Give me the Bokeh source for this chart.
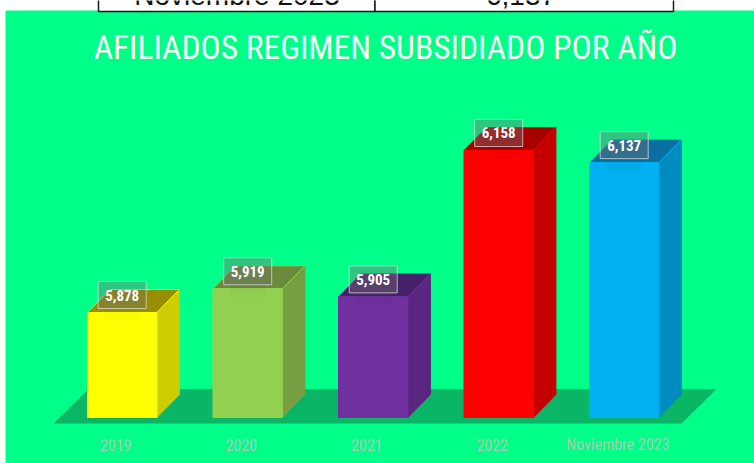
from bokeh.plotting import figure
from bokeh.models import Range1d
from bokeh.core.properties import value
from bokeh.embed import file_html
from bokeh.resources import INLINE

categories = ["2019", "2020", "2021", "2022", "Noviembre 2023"]
afiliados = [5878, 5919, 5905, 6158, 6137]
labels = ["5,878", "5,919", "5,905", "6,158", "6,137"]
front = ["#ffff00", "#92d050", "#7030a0", "#ff0000", "#00b0f0"]
side = ["#cccc00", "#759f40", "#5a2680", "#c40000", "#008cc0"]
top = ["#978f00", "#6b8a3b", "#47206a", "#a80000", "#0a6fa0"]
title = "AFILIADOS REGIMEN SUBSIDIADO POR AÑO"

W, H = 754, 463
BG = "#00ff88"
FLOOR = "#0bb566"
NARROW = "Roboto Condensed"

# scale: pixels per unit
xs = 125.5
ys = 0.5786
x0 = 121.7
y_ref = 312.0
v_ref = 5878


def X(px):
    return (px - x0) / xs


def Y(py):
    return v_ref + (y_ref - py) / ys


base = Y(417)
half = 34.7 / xs
ddx = 22.5 / xs
ddy = 23 / ys
idx = list(range(len(categories)))

p = figure(width=W, height=H, output_backend="svg", toolbar_location=None,
           x_range=Range1d(X(0), X(W)), y_range=Range1d(Y(H), Y(0)),
           min_border=0, margin=0,
           background_fill_color="white", border_fill_color="white")
p.axis.visible = False
p.grid.visible = False
p.outline_line_color = None

# panel, table remnant
p.quad(left=[X(5)], right=[X(W + 2)], top=[Y(10)], bottom=[Y(H + 2)], fill_color=BG, line_color=None)
p.quad(left=[X(98), X(374.5)], right=[X(374.5), X(673)], top=[Y(-6)] * 2, bottom=[Y(11)] * 2,
       fill_color="white", line_color="#1a1a1a", line_width=1.5)
p.text(x=[X(236.5), X(520.5)], y=[Y(-5)] * 2, text=[categories[4], labels[4]],
       text_align="center", text_baseline="middle", text_font_size="28px",
       text_font=value("Liberation Sans"), text_color="#111111")

# title
p.text(x=[X(385)], y=[Y(47)], text=[title], text_align="center", text_baseline="middle",
       text_font_size="33.5px", text_font=value(NARROW), text_color="#f4fff8")

# floor
p.patch(x=[X(53), X(681), X(716), X(88)], y=[Y(423), Y(423), Y(388.5), Y(388.5)],
        fill_color=FLOOR, line_color=None)

# bars
p.patches(xs=[[i + half, i + half + ddx, i + half + ddx, i + half] for i in idx],
          ys=[[base, base + ddy, v + ddy, v] for v in afiliados],
          fill_color=side, line_color=side, line_width=1)
p.patches(xs=[[i - half, i + half, i + half + ddx, i - half + ddx] for i in idx],
          ys=[[v, v, v + ddy, v + ddy] for v in afiliados],
          fill_color=top, line_color=front, line_width=1)
p.vbar(x=idx, width=2 * half, bottom=base, top=afiliados, fill_color=front, line_color=front, line_width=1)

# faint shadow cast under each value box
shadow_w = 36 / xs
p.quad(left=[i - shadow_w / 2 for i in idx], right=[i + shadow_w / 2 for i in idx],
       top=[v + 4 / ys for v in afiliados], bottom=[v - 8 / ys for v in afiliados],
       fill_color="black", fill_alpha=0.025, line_color=None)

# value labels
gap = 4 / ys
box_h = 27 / ys
box_w = 48 / xs
p.quad(left=[i - box_w / 2 for i in idx], right=[i + box_w / 2 for i in idx],
       bottom=[v + gap for v in afiliados], top=[v + gap + box_h for v in afiliados],
       fill_color="#707070", fill_alpha=0.4, line_color="#dddddd", line_alpha=0.75, line_width=1)
p.text(x=idx, y=[v + gap + box_h / 2 for v in afiliados], text=labels, text_align="center",
       text_baseline="middle", text_font_size="15px", text_font_style="bold",
       text_font=value(NARROW), text_color="white")

# category labels
p.text(x=idx, y=[Y(444)] * 5, x_offset=-6.5, text=categories, text_align="center",
       text_baseline="middle", text_font_size="16px", text_font=value(NARROW),
       text_color="#a9c9b4")

open("out.html", "w").write(file_html(p, INLINE))
